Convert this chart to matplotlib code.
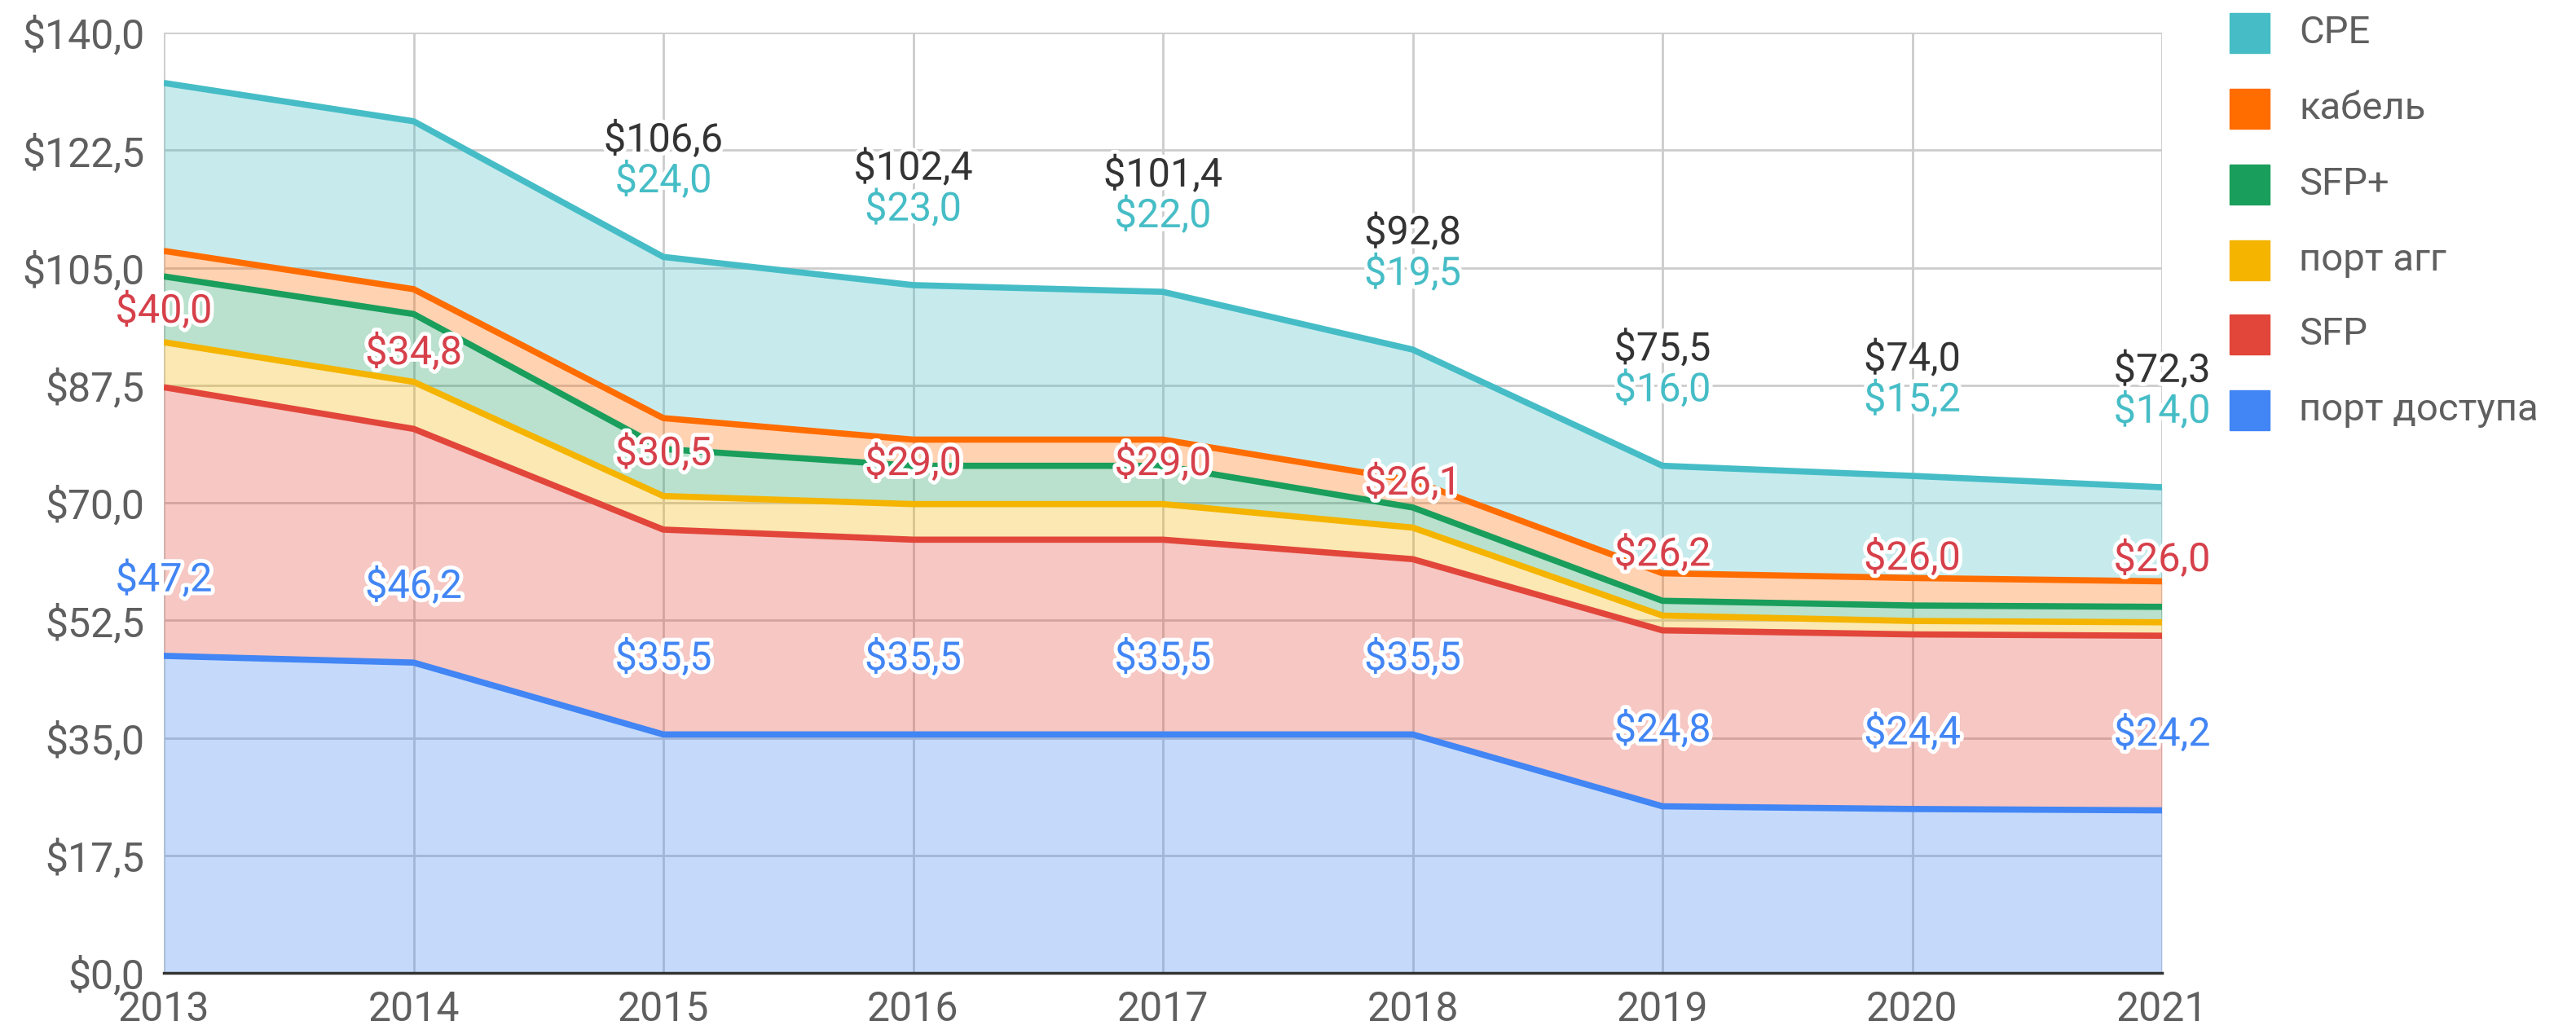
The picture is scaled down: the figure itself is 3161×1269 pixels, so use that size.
import matplotlib
matplotlib.use('Agg')
import matplotlib.pyplot as plt
import matplotlib.patheffects as pe
from matplotlib.patches import Rectangle
import numpy as np

plt.rcParams['font.family'] = ['Roboto', 'DejaVu Sans']

# data, bottom layer first
years = [2013, 2014, 2015, 2016, 2017, 2018, 2019, 2020, 2021]
port_access = [47.2, 46.2, 35.5, 35.5, 35.5, 35.5, 24.8, 24.4, 24.2]
sfp = [40.0, 34.8, 30.5, 29.0, 29.0, 26.1, 26.2, 26.0, 26.0]
port_agg = [6.7, 7.0, 5.0, 5.3, 5.3, 4.7, 2.2, 2.0, 2.0]
sfp_plus = [9.8, 10.1, 7.0, 5.7, 5.7, 3.0, 2.2, 2.3, 2.3]
cable = [3.8, 3.7, 4.6, 3.9, 3.9, 4.0, 4.1, 4.1, 3.8]
cpe = [25.0, 25.0, 24.0, 23.0, 22.0, 19.5, 16.0, 15.2, 14.0]

names = ['порт доступа', 'SFP', 'порт агг', 'SFP+', 'кабель', 'CPE']
colors = ['#4285F4', '#E2463A', '#F4B400', '#1A9E5C', '#FF6D01', '#46BDC6']
yticks = np.arange(0, 140.1, 17.5)

# years where the total / CPE labels are shown
top_label_from = 2

W, H = 3161, 1269
fig = plt.figure(figsize=(W / 100, H / 100), dpi=100)
ax = fig.add_axes([201 / W, 1 - 1194 / H, (2653 - 201) / W, (1194 - 40) / H])

layers = np.array([port_access, sfp, port_agg, sfp_plus, cable, cpe])
stack = np.cumsum(layers, axis=0)

lower = np.zeros(len(years))
for i in range(len(layers)):
    ax.fill_between(years, lower, stack[i], color=colors[i], alpha=0.3, lw=0, zorder=2)
    lower = stack[i]
for i in range(len(layers)):
    ax.plot(years, stack[i], color=colors[i], lw=5.5, zorder=3, solid_capstyle='butt')

ax.set_xlim(years[0], years[-1])
ax.set_ylim(0, 140)
ax.set_xticks(years)
ax.set_yticks(yticks)
ax.set_yticklabels([f"${v:.1f}".replace('.', ',') for v in yticks])
ax.grid(True, color='#cccccc', lw=2)
ax.set_axisbelow(True)
for s in ['top', 'right', 'left']:
    ax.spines[s].set_visible(False)
ax.spines['bottom'].set_color('#333333')
ax.spines['bottom'].set_linewidth(2.5)
ax.spines['bottom'].set_zorder(4)
ax.tick_params(length=0, labelsize=36, labelcolor='#5f5f5f')
ax.tick_params(axis='y', pad=17)
ax.tick_params(axis='x', pad=15)

halo = [pe.withStroke(linewidth=7, foreground='white')]
lab_size = 35


def fmt(v):
    return f"${v:.1f}".replace('.', ',')


total = stack[-1]
for j, yr in enumerate(years):
    # port access label
    ax.annotate(fmt(port_access[j]), (yr, stack[0][j]), xytext=(0, 67),
                textcoords='offset points', ha='center', va='center',
                fontsize=lab_size, color='#4285F4', path_effects=halo,
                annotation_clip=False, zorder=5)
    # SFP label
    ax.annotate(fmt(sfp[j]), (yr, stack[1][j]), xytext=(0, 67),
                textcoords='offset points', ha='center', va='center',
                fontsize=lab_size, color='#D6404A', path_effects=halo,
                annotation_clip=False, zorder=5)
    if j >= top_label_from:
        ax.annotate(fmt(cpe[j]), (yr, total[j]), xytext=(0, 67),
                    textcoords='offset points', ha='center', va='center',
                    fontsize=lab_size, color='#46BDC6', path_effects=halo,
                    annotation_clip=False, zorder=5)
        ax.annotate(fmt(total[j]), (yr, total[j]), xytext=(0, 103),
                    textcoords='offset points', ha='center', va='center',
                    fontsize=lab_size, color='#333333', path_effects=halo,
                    annotation_clip=False, zorder=5)

# legend, top entry is the top layer
row_y = [40, 133, 226, 319, 410, 503]
for k, i in enumerate(range(len(names) - 1, -1, -1)):
    yc = row_y[k]
    fig.patches.append(Rectangle((2736 / W, 1 - (yc + 24.5) / H), 49 / W, 49 / H,
                                 transform=fig.transFigure, color=colors[i]))
    fig.text(2821 / W, 1 - yc / H, names[i], va='center', ha='left',
             fontsize=34, color='#5f5f5f')

fig.savefig('out.png', dpi=100)
